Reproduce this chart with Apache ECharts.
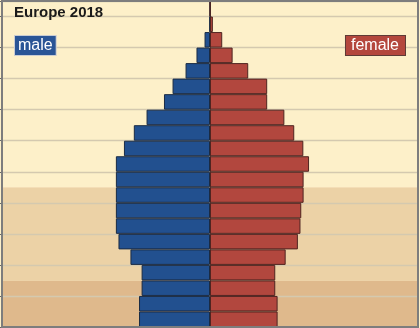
<!DOCTYPE html>
<html>
<head>
<meta charset="utf-8">
<script src="https://cdn.jsdelivr.net/npm/echarts@6/dist/echarts.min.js"></script>
<style>
  html, body { margin: 0; padding: 0; background: #fdf0c9; }
  #chart { width: 420px; height: 328px; }
</style>
</head>
<body>
<div id="chart"></div>
<script>
// Age groups, youngest at the bottom
const ageGroups = ['0-4', '5-9', '10-14', '15-19', '20-24', '25-29', '30-34', '35-39',
  '40-44', '45-49', '50-54', '55-59', '60-64', '65-69', '70-74', '75-79', '80-84',
  '85-89', '90-94', '95-99', '100+'];

// Share of the total population (%) per age group
const maleShare = [2.73, 2.73, 2.63, 2.63, 3.06, 3.52, 3.62, 3.62, 3.62, 3.62, 3.62,
  3.31, 2.93, 2.44, 1.77, 1.44, 0.94, 0.52, 0.21, 0.02, 0.00];
const femaleShare = [2.60, 2.60, 2.51, 2.51, 2.91, 3.38, 3.48, 3.51, 3.60, 3.60, 3.81,
  3.59, 3.24, 2.86, 2.20, 2.20, 1.47, 0.87, 0.47, 0.11, 0.01];

// Age bands shaded behind the pyramid: [from age, to age, colour]
const ageBands = [
  [0, 15, '#dfb98c'],
  [15, 45, '#ecd2a6'],
  [45, 105, '#fdf0c9']
];
const ageTicks = { min: 0, max: 105, interval: 10 };
const shareRange = 8;

const chart = echarts.init(document.getElementById('chart'), null, { renderer: 'canvas' });

chart.setOption({
  animation: false,
  textStyle: { fontFamily: 'Liberation Sans, Arial, sans-serif' },
  title: {
    text: 'Europe 2018',
    left: 14,
    top: 5,
    padding: 0,
    z: 10,
    textStyle: { fontSize: 15, fontWeight: 'bold', color: '#1a1a1a' }
  },
  legend: [
    {
      data: ['male'],
      left: 9,
      top: 35,
      padding: 0,
      itemWidth: 0,
      itemHeight: 0,
      align: 'left',
      selectedMode: false,
      z: 10,
      textStyle: {
        color: '#ffffff', fontSize: 16,
        backgroundColor: '#2a5596', borderColor: '#c9ccd2', borderWidth: 1,
        padding: [2, 3, 1, 3]
      }
    },
    {
      data: ['female'],
      right: 14,
      top: 35,
      padding: 0,
      itemWidth: 0,
      itemHeight: 0,
      align: 'left',
      selectedMode: false,
      z: 10,
      textStyle: {
        color: '#ffffff', fontSize: 16,
        backgroundColor: '#b4473d', borderColor: '#5e3b36', borderWidth: 1,
        padding: [2, 6, 1, 5]
      }
    }
  ],
  grid: {
    left: 2, right: 2, top: 1, bottom: 1,
    show: true,
    z: 8,
    backgroundColor: 'transparent',
    borderColor: '#7d7d7d',
    borderWidth: 2
  },
  xAxis: {
    type: 'value',
    min: -shareRange,
    max: shareRange,
    show: false
  },
  yAxis: [
    {
      type: 'category',
      data: ageGroups,
      z: 2,
      axisLine: { show: true, onZero: true, lineStyle: { color: '#4a4a4a', width: 1 } },
      axisTick: { show: false },
      axisLabel: { show: false },
      splitLine: { show: false }
    },
    {
      type: 'value',
      position: 'left',
      min: ageTicks.min,
      max: ageTicks.max,
      interval: ageTicks.interval,
      z: 2,
      axisLine: { show: false },
      axisTick: { show: true, length: 3, lineStyle: { color: '#666', width: 1 } },
      axisLabel: { show: false },
      splitLine: { show: true, lineStyle: { color: '#d4c9af', width: 1.4 } }
    }
  ],
  series: [
    {
      name: 'bands',
      type: 'line',
      yAxisIndex: 1,
      data: [],
      z: 1,
      silent: true,
      markArea: {
        silent: true,
        data: ageBands.map(b => [
          { yAxis: b[0], itemStyle: { color: b[2], opacity: 1 } },
          { yAxis: b[1] }
        ])
      }
    },
    {
      name: 'male',
      type: 'bar',
      stack: 'pyramid',
      yAxisIndex: 0,
      barCategoryGap: 0,
      z: 3,
      data: maleShare.map(v => -v),
      itemStyle: { color: '#22508f', borderColor: '#1a2b44', borderWidth: 1 }
    },
    {
      name: 'female',
      type: 'bar',
      stack: 'pyramid',
      yAxisIndex: 0,
      barCategoryGap: 0,
      z: 3,
      data: femaleShare,
      itemStyle: { color: '#b2473e', borderColor: '#4f2420', borderWidth: 1 }
    }
  ]
});
</script>
</body>
</html>
